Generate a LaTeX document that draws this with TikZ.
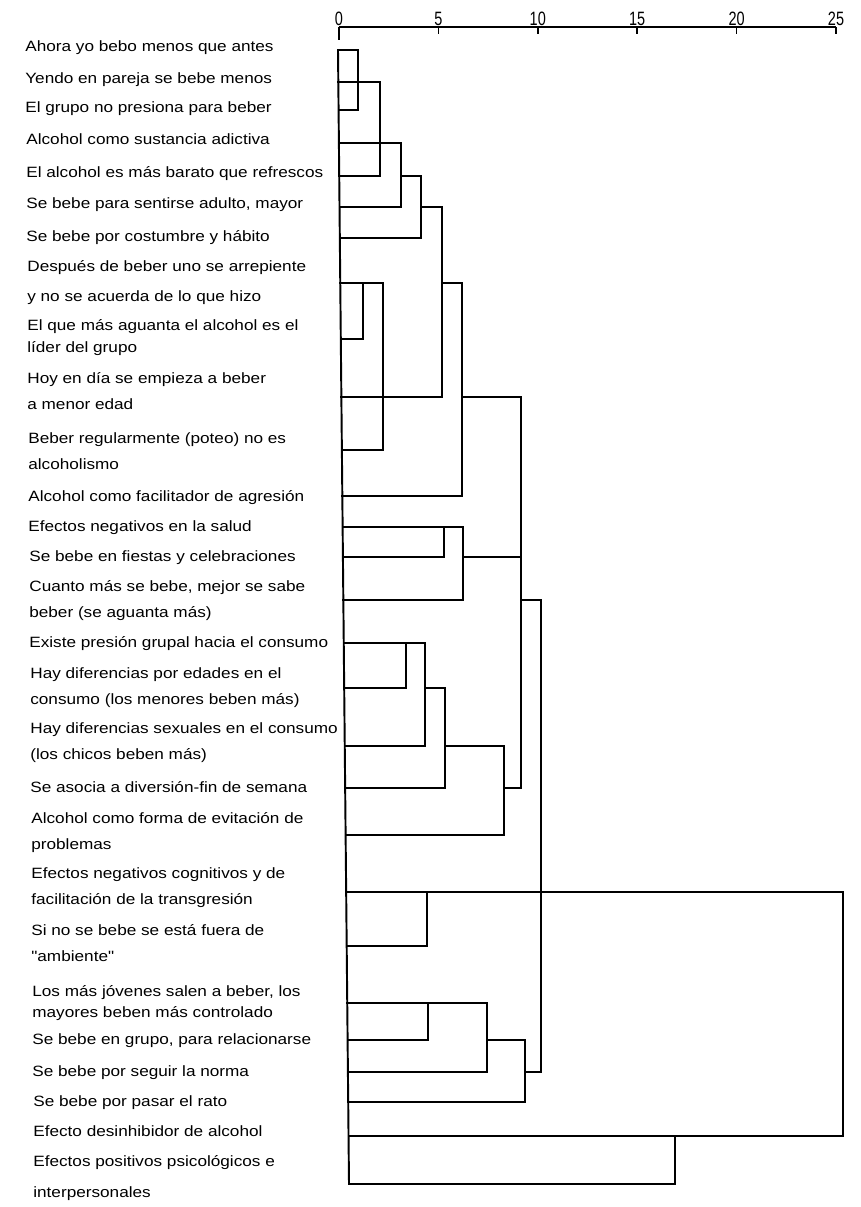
\documentclass[tikz,border=0pt]{standalone}
\usepackage{fontspec}
\newfontfamily\lblfont{Liberation Sans}[FakeStretch=1.15]
\newfontfamily\axisfont{Liberation Sans}[FakeStretch=0.75]
\usepackage{tikz}

\begin{document}
\begin{tikzpicture}[
  x=0.02cm, y=-0.02cm,
  tree/.style={line width=1.1pt, line cap=rect},
  axis/.style={line width=0.9pt},
  lbl/.style={anchor=base west, inner sep=0pt, align=left, font=\lblfont\fontsize{8.5}{14.7}\selectfont},
  num/.style={anchor=base, inner sep=0pt, font=\axisfont\fontsize{11}{11}\selectfont}
]
\useasboundingbox (0,0) rectangle (861,1207);
\draw[axis] (339,27) -- (836,27);
\draw[axis] (339,27) -- (339,40);
\foreach \v in {0,5,...,25}{
  \draw[axis] ({339+\v*19.88},27) -- ++(0,7);
  \node[num] (t\v) at ({339+\v*19.88},25) {\v};
}
\node[lbl] (menos) at (25,51) {Ahora yo bebo menos que antes};
\node[lbl] (pareja) at (25,83) {Yendo en pareja se bebe menos};
\node[lbl] (presion) at (25,112) {El grupo no presiona para beber};
\node[lbl] (adictiva) at (26,144) {Alcohol como sustancia adictiva};
\node[lbl] (barato) at (26,177) {El alcohol es más barato que refrescos};
\node[lbl] (adulto) at (26,208) {Se bebe para sentirse adulto, mayor};
\node[lbl] (costumbre) at (26,241) {Se bebe por costumbre y hábito};
\node[lbl] (arrepiente) at (27,301) {Después de beber uno se arrepiente\\[2.3pt]y no se acuerda de lo que hizo};
\node[lbl] (lider) at (27,352) {El que más aguanta el alcohol es el\\[-2.3pt]líder del grupo};
\node[lbl] (edad) at (27,409) {Hoy en día se empieza a beber\\a menor edad};
\node[lbl] (poteo) at (28,469) {Beber regularmente (poteo) no es\\alcoholismo};
\node[lbl] (agresion) at (28,501) {Alcohol como facilitador de agresión};
\node[lbl] (salud) at (28,531) {Efectos negativos en la salud};
\node[lbl] (fiestas) at (29,561) {Se bebe en fiestas y celebraciones};
\node[lbl] (aguanta) at (29,617) {Cuanto más se bebe, mejor se sabe\\beber (se aguanta más)};
\node[lbl] (grupal) at (29,647) {Existe presión grupal hacia el consumo};
\node[lbl] (edades) at (30,704) {Hay diferencias por edades en el\\consumo (los menores beben más)};
\node[lbl] (sexuales) at (30,759) {Hay diferencias sexuales en el consumo\\(los chicos beben más)};
\node[lbl] (finde) at (30,792) {Se asocia a diversión-fin de semana};
\node[lbl] (evitacion) at (31,849) {Alcohol como forma de evitación de\\problemas};
\node[lbl] (cognitivos) at (31,904) {Efectos negativos cognitivos y de\\facilitación de la transgresión};
\node[lbl] (ambiente) at (31,961) {Si no se bebe se está fuera de\\"ambiente"};
\node[lbl] (jovenes) at (32,1017) {Los más jóvenes salen a beber, los\\[-2.8pt]mayores beben más controlado};
\node[lbl] (relacion) at (32,1044) {Se bebe en grupo, para relacionarse};
\node[lbl] (norma) at (32,1076) {Se bebe por seguir la norma};
\node[lbl] (rato) at (33,1106) {Se bebe por pasar el rato};
\node[lbl] (desinhib) at (33,1136) {Efecto desinhibidor de alcohol};
\node[lbl] (positivos) at (33,1197) {Efectos positivos psicológicos e\\[2.8pt]interpersonales};
\draw[tree] (338,50) -- (349,1184)
  (338,50) -- (358,50) -- (358,110) -- (339,110)
  (338,82) -- (380,82) -- (380,176) -- (339,176)
  (339,143) -- (401,143) -- (401,207) -- (340,207)
  (401,176) -- (421,176) -- (421,238) -- (340,238)
  (421,207) -- (442,207) -- (442,397) -- (341,397)
  (340,283) -- (383,283) -- (383,450) -- (342,450)
  (363,283) -- (363,339) -- (341,339)
  (442,283) -- (462,283) -- (462,496) -- (342,496)
  (462,397) -- (521,397) -- (521,788)
  (343,527) -- (463,527) -- (463,600) -- (343,600)
  (444,527) -- (444,557) -- (343,557)
  (463,557) -- (521,557)
  (522,600) -- (541,600) -- (541,1072)
  (344,643) -- (425,643) -- (425,746) -- (345,746)
  (406,643) -- (406,688) -- (344,688)
  (425,688) -- (445,688) -- (445,788) -- (345,788)
  (445,746) -- (504,746) -- (504,835) -- (346,835)
  (504,788) -- (521,788)
  (346,892) -- (843,892) -- (843,1136) -- (349,1136)
  (427,892) -- (427,946) -- (347,946)
  (347,1003) -- (487,1003) -- (487,1072) -- (348,1072)
  (428,1003) -- (428,1040) -- (348,1040)
  (487,1040) -- (525,1040) -- (525,1102) -- (348,1102)
  (525,1072) -- (541,1072)
  (675,1136) -- (675,1184) -- (349,1184);
\end{tikzpicture}
\end{document}
